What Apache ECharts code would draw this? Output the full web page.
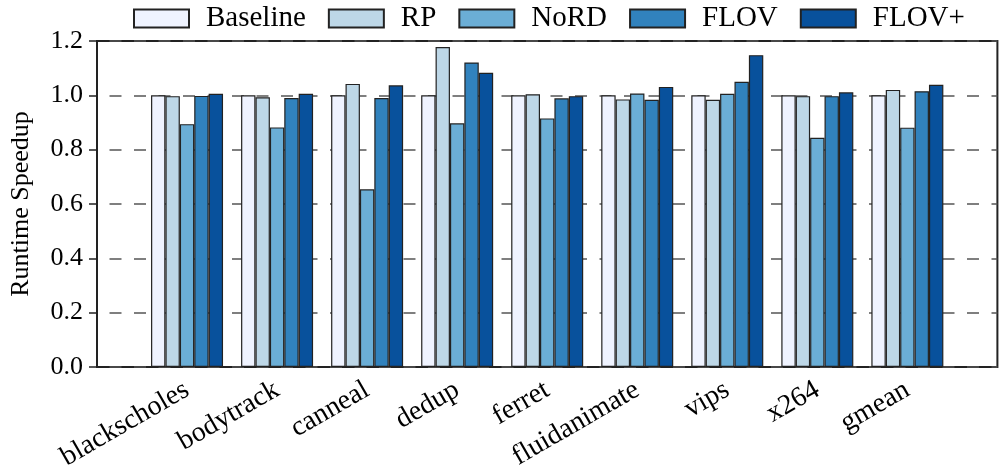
<!DOCTYPE html>
<html>
<head>
<meta charset="utf-8">
<script src="https://cdn.jsdelivr.net/npm/echarts@6/dist/echarts.min.js"></script>
<style>
html,body{margin:0;padding:0;background:#fff;}
#chart{width:1000px;height:474px;}
</style>
</head>
<body>
<div id="chart"></div>
<script>
const categories = ['blackscholes','bodytrack','canneal','dedup','ferret','fluidanimate','vips','x264','gmean'];
const seriesNames = ['Baseline','RP','NoRD','FLOV','FLOV+'];
const baseline = [1.000, 1.000, 1.000, 1.000, 1.000, 1.000, 1.000, 1.000, 1.000];
const rp       = [0.997, 0.993, 1.042, 1.178, 1.004, 0.985, 0.984, 0.997, 1.020];
const nord     = [0.894, 0.882, 0.654, 0.897, 0.915, 1.007, 1.006, 0.844, 0.881];
const flov     = [0.998, 0.990, 0.990, 1.121, 0.989, 0.984, 1.050, 0.997, 1.015];
const flovPlus = [1.006, 1.006, 1.037, 1.083, 0.997, 1.031, 1.148, 1.011, 1.039];
const yTicks = ['0.0','0.2','0.4','0.6','0.8','1.0','1.2'];
const colors = ['#eff3ff','#bdd7e7','#6baed6','#3182bd','#08519c'];

const FONT = "'Liberation Serif','Times New Roman',serif";
const allValues = [baseline, rp, nord, flov, flovPlus];

const chart = echarts.init(document.getElementById('chart'), null, {renderer:'canvas'});
chart.setOption({
  animation: false,
  backgroundColor: '#fff',
  legend: {
    top: 4,
    left: 133,
    padding: 0,
    icon: 'rect',
    itemWidth: 55,
    itemHeight: 18,
    itemGap: 22,
    textStyle: {fontFamily: FONT, fontSize: 29, color: '#000', padding: [0,0,0,12], lineHeight: 28},
    data: seriesNames
  },
  grid: {
    left: 97, right: 1.5, top: 41, bottom: 107,
    show: true, borderColor: '#222', borderWidth: 2, backgroundColor: 'transparent'
  },
  xAxis: {
    type: 'value', min: 0, max: 10, interval: 1,
    axisLine: {show: false},
    axisTick: {show: false},
    splitLine: {show: false},
    axisLabel: {
      rotate: 30, margin: 21, fontFamily: FONT, fontSize: 28, color: '#000',
      showMinLabel: true, showMaxLabel: true,
      formatter: v => (v >= 1 && v <= categories.length) ? categories[Math.round(v) - 1] : ''
    }
  },
  yAxis: {
    type: 'value', min: 0, max: 1.2, interval: 0.2,
    name: 'Runtime Speedup', nameLocation: 'middle', nameGap: 63,
    nameTextStyle: {fontFamily: FONT, fontSize: 26, color: '#000'},
    axisLine: {show: false},
    axisTick: {show: true, length: 8, lineStyle: {color: '#222', width: 1.5}},
    axisLabel: {
      margin: 14, fontFamily: FONT, fontSize: 26, color: '#000',
      formatter: v => yTicks[Math.round(v / 0.2)]
    },
    splitLine: {show: true, lineStyle: {color: '#555', width: 1.5, type: [12, 12.5], dashOffset: 12}}
  },
  series: seriesNames.map((name, si) => ({
    name: name,
    type: 'bar',
    barWidth: 14.4,
    barGap: '0%',
    itemStyle: {color: colors[si], borderColor: '#222', borderWidth: 1.2},
    data: allValues[si].map((v, ci) => [ci + 1, v])
  }))
});
</script>
</body>
</html>
